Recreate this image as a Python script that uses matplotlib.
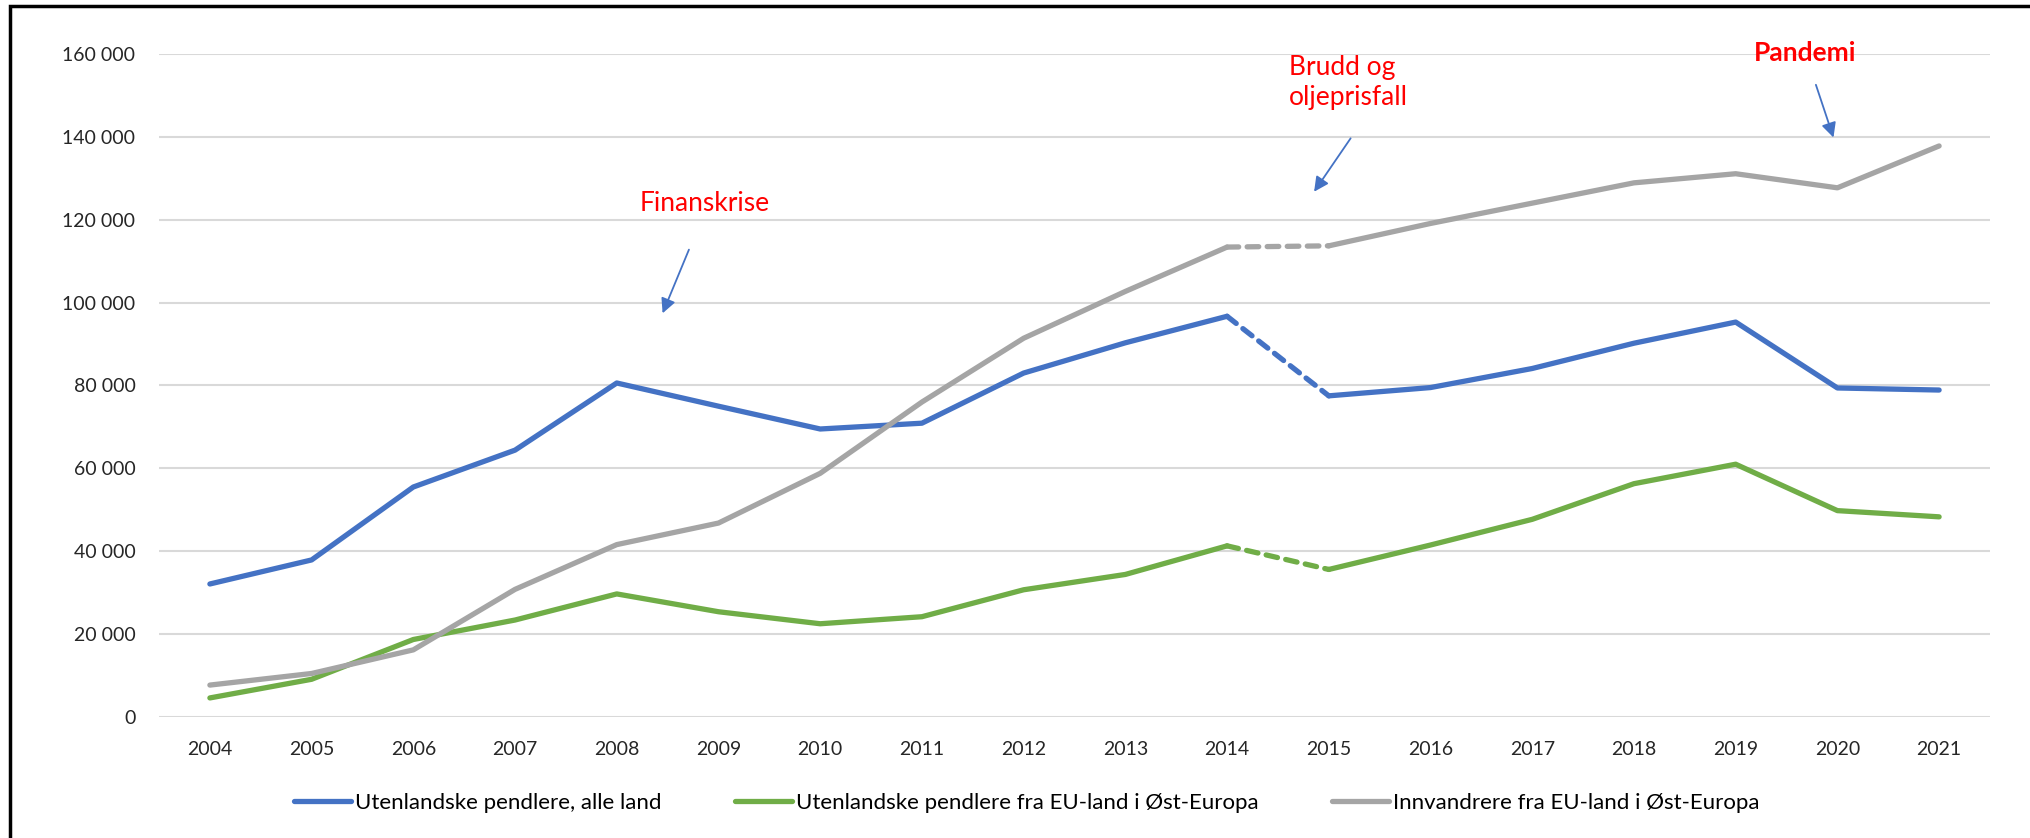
import matplotlib.pyplot as plt
from matplotlib.patches import Rectangle
from matplotlib.ticker import FuncFormatter

plt.rcParams['font.family'] = ['Lato', 'DejaVu Sans']

# Data
years = [str(y) for y in range(2004, 2022)]
pendlere_alle = [32100, 37900, 55500, 64400, 80600, 75000, 69500, 70900, 83000,
                 90300, 96700, 77500, 79500, 84100, 90200, 95300, 79400, 78900]
pendlere_ost = [4600, 9100, 18700, 23400, 29700, 25400, 22500, 24200, 30700,
                34400, 41300, 35600, 41500, 47700, 56300, 61000, 49800, 48300]
innvandrere_ost = [7700, 10500, 16200, 30800, 41600, 46800, 58800, 76000, 91400,
                   102700, 113400, 113700, 119100, 124000, 128900, 131100, 127700, 137800]

labels = ['Utenlandske pendlere, alle land',
          'Utenlandske pendlere fra EU-land i Øst-Europa',
          'Innvandrere fra EU-land i Øst-Europa']
colors = ['#4472C4', '#70AD47', '#A5A5A5']
series = [pendlere_alle, pendlere_ost, innvandrere_ost]

brudd = 10  # index of 2014, break in series between 2014 and 2015

fig = plt.figure(figsize=(20.31, 8.38), dpi=100)
ax = fig.add_axes([0.0783, 0.1444, 0.9015, 0.7912])

x = list(range(len(years)))
lw = 3.8
for vals, col, lab in zip(series, colors, labels):
    ax.plot(x[:brudd + 1], vals[:brudd + 1], color=col, lw=lw, label=lab,
            solid_capstyle='round', solid_joinstyle='round')
    ax.plot(x[brudd:brudd + 2], vals[brudd:brudd + 2], color=col, lw=lw,
            linestyle=(0, (2.2, 1.6)), dash_capstyle='round')
    ax.plot(x[brudd + 1:], vals[brudd + 1:], color=col, lw=lw,
            solid_capstyle='round', solid_joinstyle='round')

ax.set_xlim(-0.5, len(years) - 0.5)
ax.set_ylim(0, 160000)
ax.set_xticks(x)
ax.set_xticklabels(years)
ax.set_yticks(range(0, 160001, 20000))
ax.yaxis.set_major_formatter(FuncFormatter(lambda v, p: f'{int(v):,}'.replace(',', ' ')))
ax.tick_params(length=0, labelsize=14, colors='#262626')
ax.tick_params(axis='y', pad=17)
ax.tick_params(axis='x', pad=17)
ax.grid(axis='y', color='#D9D9D9', lw=1.5)
ax.set_axisbelow(True)
for s in ax.spines.values():
    s.set_visible(False)

# annotations
red = '#FF0000'
arrow = dict(arrowstyle='-|>', color='#4472C4', lw=1.3, mutation_scale=22)
ax.text(4.86, 123800, 'Finanskrise', color=red, fontsize=19, ha='center', va='center')
ax.annotate('', xy=(4.44, 96800), xytext=(4.72, 113400), arrowprops=arrow)
ax.text(10.61, 153100, 'Brudd og\noljeprisfall', color=red, fontsize=19,
        ha='left', va='center', linespacing=1.25)
ax.annotate('', xy=(10.84, 126200), xytext=(11.23, 140200), arrowprops=arrow)
ax.text(15.68, 160200, 'Pandemi', color=red, fontsize=19, fontweight='bold',
        ha='center', va='center', clip_on=False)
ax.annotate('', xy=(15.97, 139200), xytext=(15.78, 153200), arrowprops=arrow,
            annotation_clip=False)

handles = ax.get_lines()[0::3]
fig.legend(handles, labels, loc='center', bbox_to_anchor=(0.5054, 0.042), ncol=3,
           frameon=False, fontsize=16, handlelength=2.57, handletextpad=0.18,
           columnspacing=3.3)

# frame of the original chart box
fig.patches.append(Rectangle((0.005, -0.05), 1.1, 1.0428, transform=fig.transFigure,
                             fill=False, edgecolor='black', lw=2.5))

fig.savefig('out.png', dpi=100)
